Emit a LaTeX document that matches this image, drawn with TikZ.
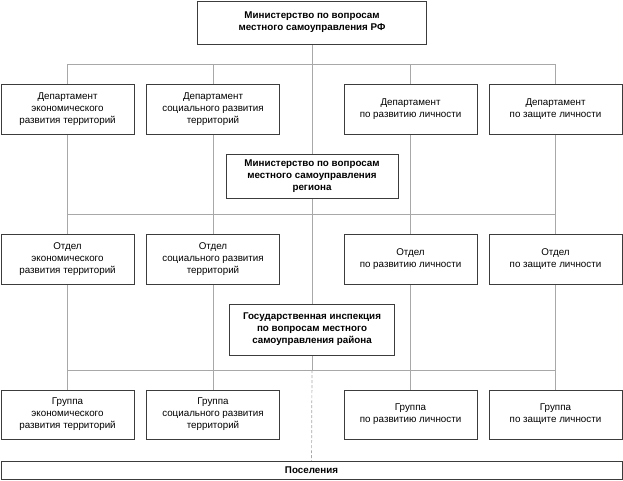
\documentclass[tikz,border=0pt]{standalone}
\usepackage{fontspec}
\setmainfont{Liberation Sans}
\usetikzlibrary{backgrounds}
\definecolor{boxline}{HTML}{3C3C3C}
\definecolor{wire}{HTML}{A8A8A8}

\begin{document}
\begin{tikzpicture}[
    x=1pt, y=1pt,
    unit/.style={rectangle, draw=boxline, line width=0.9pt, fill=white, align=center, inner sep=0pt, minimum width=133pt, minimum height=50pt, font=\fontsize{9.8}{12}\selectfont},
    head/.style={unit, font=\bfseries\fontsize{9.8}{12}\selectfont},
    link/.style={draw=wire, line width=0.7pt},
]
    \useasboundingbox (0,0) rectangle (623,480);

    \node[head, minimum width=229pt, minimum height=43pt] (rf) at (312,457.5) {Министерство по вопросам\\местного самоуправления РФ};

    \node[unit] (d1) at (67.5,371) {Департамент\\экономического\\развития территорий};
    \node[unit] (d2) at (213,371) {Департамент\\социального развития\\территорий};
    \node[unit] (d3) at (410.5,371) {Департамент\\по развитию личности};
    \node[unit] (d4) at (555.5,371) {Департамент\\по защите личности};

    \node[head, minimum width=172pt, minimum height=44pt] (reg) at (312,304) {Министерство по вопросам\\местного самоуправления\\региона};

    \node[unit] (o1) at (67.5,221) {Отдел\\экономического\\развития территорий};
    \node[unit] (o2) at (213,221) {Отдел\\социального развития\\территорий};
    \node[unit] (o3) at (410.5,221) {Отдел\\по развитию личности};
    \node[unit] (o4) at (555.5,221) {Отдел\\по защите личности};

    \node[head, minimum width=165pt, minimum height=51pt] (insp) at (312,150.5) {Государственная инспекция\\по вопросам  местного\\самоуправления района};

    \node[unit, minimum height=49pt] (g1) at (67.5,65.5) {Группа\\экономического\\развития территорий};
    \node[unit, minimum height=49pt] (g2) at (213,65.5) {Группа\\социального развития\\территорий};
    \node[unit, minimum height=49pt] (g3) at (410.5,65.5) {Группа\\по развитию личности};
    \node[unit, minimum height=49pt] (g4) at (555.5,65.5) {Группа\\по защите личности};

    \node[head, minimum width=621pt, minimum height=18pt] (pos) at (311.5,10) {Поселения};

    \coordinate (bus1) at (312,416);
    \coordinate (bus2) at (312,266);
    \coordinate (bus3) at (312,110);

    \begin{scope}[on background layer]
        \draw[link] (rf) -- (reg) -- (insp) -- (bus3);
        \draw[link, dash pattern=on 3pt off 2pt] (bus3) -- (pos);

        \draw[link] (d1.north |- bus1) -- (d4.north |- bus1);
        \draw[link] (o1.north |- bus2) -- (o4.north |- bus2);
        \draw[link] (g1.north |- bus3) -- (g4.north |- bus3);

        \draw[link] (d1.north |- bus1) -- (d1) -- (o1) -- (g1);
        \draw[link] (d2.north |- bus1) -- (d2) -- (o2) -- (g2);
        \draw[link] (d3.north |- bus1) -- (d3) -- (o3) -- (g3);
        \draw[link] (d4.north |- bus1) -- (d4) -- (o4) -- (g4);
    \end{scope}
\end{tikzpicture}
\end{document}
